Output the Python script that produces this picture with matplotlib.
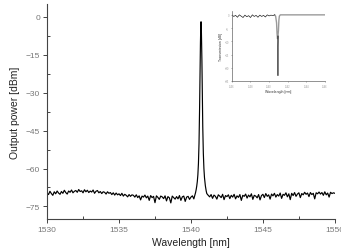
import numpy as np
import matplotlib
matplotlib.use("Agg")
import matplotlib.pyplot as plt
from matplotlib.ticker import MultipleLocator

plt.rcParams['font.family'] = ['Liberation Sans', 'DejaVu Sans']

# ---------------------------------------------------------------------
# Main spectrum: noise floor left of the peak (1530.0 .. 1540.2, 0.1 nm)
wl_left = np.linspace(1530.0, 1540.2, 103)
db_left = [
    -69.6, -70.3, -69.0, -69.9, -70.6, -69.2, -70.0, -68.9, -69.7, -70.2,
    -69.1, -69.8, -68.6, -69.5, -70.1, -68.9, -69.4, -68.5, -69.6, -69.0,
    -68.7, -69.4, -68.3, -69.1, -68.8, -69.6, -68.4, -69.2, -68.6, -69.5,
    -68.9, -69.3, -68.5, -69.8, -69.0, -68.7, -69.6, -69.1, -69.9, -69.2,
    -69.4, -70.1, -69.2, -69.8, -69.5, -70.3, -69.6, -70.5, -69.7, -70.4,
    -70.0, -70.7, -69.8, -70.9, -70.2, -70.6, -71.2, -70.3, -71.0, -70.4,
    -70.6, -71.3, -70.4, -71.5, -70.8, -72.4, -70.9, -71.3, -70.5, -71.6,
    -70.9, -72.6, -70.7, -71.5, -71.0, -73.5, -70.8, -71.4, -72.2, -70.9,
    -71.2, -71.9, -70.8, -72.8, -71.1, -71.6, -73.6, -70.9, -71.5, -72.1,
    -71.1, -72.0, -70.7, -72.6, -71.2, -70.9, -73.0, -71.3, -71.0, -72.2,
    -71.3, -70.8, -72.0,
]

# laser line (1540.30 .. 1541.10, 0.02 nm)
wl_peak = np.linspace(1540.30, 1541.10, 41)
db_peak = [
    -70.0, -69.5, -69.0, -68.4, -67.8, -67.0, -66.2, -65.2, -64.0, -62.5,
    -60.5, -58.0, -54.5, -50.0, -44.0, -36.0, -27.0, -18.0, -10.0, -4.5,
    -2.0,
    -4.0, -9.5, -17.0, -26.0, -35.0, -43.5, -49.5, -54.0, -57.5, -60.0,
    -62.0, -63.6, -64.8, -65.9, -66.8, -67.6, -68.3, -68.9, -69.4, -69.9,
]

# noise floor right of the peak (1541.2 .. 1550.0, 0.1 nm)
wl_right = np.linspace(1541.2, 1550.0, 89)
db_right = [
    -70.6, -71.2, -70.3, -71.8, -70.5, -71.0, -72.1, -70.4,
    -70.9, -71.5, -70.2, -72.3, -70.7, -71.1, -70.4, -71.9, -70.6, -71.3,
    -70.2, -72.0, -70.8, -71.4, -70.3, -72.6, -70.6, -71.0, -70.1, -71.7,
    -70.5, -71.2, -70.0, -72.2, -70.6, -70.9, -71.6, -70.3, -72.4, -70.7,
    -70.2, -71.5, -69.9, -71.0, -70.4, -72.1, -70.1, -70.8, -69.8, -71.3,
    -70.3, -70.9, -69.7, -71.8, -70.2, -70.6, -69.6, -71.2, -70.0, -72.3,
    -69.8, -70.7, -69.5, -71.0, -70.1, -69.6, -71.5, -69.9, -70.4, -69.4,
    -70.2, -69.7, -71.1, -69.5, -70.3, -69.8, -72.0, -69.6, -70.0, -69.3,
    -70.1, -69.5, -70.6, -69.2, -70.4, -69.7, -71.3, -69.4, -69.9, -69.6,
    -69.8,
]

# ---------------------------------------------------------------------
# Inset: grating transmission
ins_wl_rip = np.linspace(1536.0, 1540.6, 24)
ins_db_rip = [0.0, -0.6, -0.2, -0.9, 0.0, -0.5, -1.0, -0.1, -0.7, -0.3,
              -1.0, 0.0, -0.6, -0.2, -0.9, -0.1, -0.6, -0.2, -0.8, 0.0,
              -0.4, -0.1, -0.3, 0.0]
ins_wl_flat = [1540.6, 1540.7, 1540.8, 1540.85, 1540.9, 1540.95, 1541.0,
               1541.05, 1541.1, 1541.2, 1546.0]
ins_db_flat = [0.0, -0.5, -3.0, -7.0, -9.0, -8.0, -6.0, -2.0, -0.5, 0.0, 0.0]
ins_wl_dip = [1540.90, 1540.93, 1540.95, 1540.97, 1541.00]
ins_db_dip = [-8.0, -15.0, -23.0, -15.0, -8.0]

# ---------------------------------------------------------------------
fig = plt.figure(figsize=(3.41, 2.53), dpi=100)
ax = fig.add_axes([0.138, 0.130, 0.844, 0.850])

wl = np.concatenate([wl_left, wl_peak, wl_right])
db = np.concatenate([db_left, db_peak, db_right])
ax.plot(wl, db, color='black', lw=0.85)

ax.set_xlim(1530, 1550)
ax.set_ylim(-80, 5)
ax.xaxis.set_major_locator(MultipleLocator(5))
ax.xaxis.set_minor_locator(MultipleLocator(2.5))
ax.yaxis.set_major_locator(MultipleLocator(15))
ax.yaxis.set_minor_locator(MultipleLocator(7.5))
ax.set_yticks([0, -15, -30, -45, -60, -75])
for s in ['top', 'right']:
    ax.spines[s].set_visible(False)
for s in ['left', 'bottom']:
    ax.spines[s].set_color('#444444')
    ax.spines[s].set_linewidth(0.8)
ax.tick_params(which='major', direction='out', length=3, width=0.7,
               colors='#444444', labelsize=6, labelcolor='#777777', pad=2)
ax.tick_params(which='minor', direction='in', length=2.5, width=0.7,
               colors='#444444')
ax.set_xlabel('Wavelength [nm]', fontsize=7.5, color='#222222', labelpad=3)
ax.set_ylabel('Output power [dBm]', fontsize=7.5, color='#222222', labelpad=4)

# inset
ins = fig.add_axes([0.680, 0.676, 0.273, 0.277])
ins.plot(ins_wl_flat, ins_db_flat, color='#9a9a9a', lw=1.0)
ins.plot(ins_wl_rip, ins_db_rip, color='#222222', lw=0.5)
ins.plot(ins_wl_dip, ins_db_dip, color='#333333', lw=0.5)
ins.set_xlim(1536, 1546)
ins.set_ylim(-25, 1.5)
ins.set_xticks([1536, 1538, 1540, 1542, 1544, 1546])
ins.set_yticks([0, -5, -10, -15, -20, -25])
for s in ['top', 'right']:
    ins.spines[s].set_visible(False)
for s in ['left', 'bottom']:
    ins.spines[s].set_color('#666666')
    ins.spines[s].set_linewidth(0.5)
ins.tick_params(direction='out', length=1, width=0.4, colors='#666666',
                labelsize=1.8, labelcolor='#999999', pad=1)
ins.set_xlabel('Wavelength [nm]', fontsize=2.5, color='#333333', labelpad=1)
ins.set_ylabel('Transmission [dB]', fontsize=2.5, color='#333333', labelpad=1)

fig.savefig('out.png', dpi=100)
